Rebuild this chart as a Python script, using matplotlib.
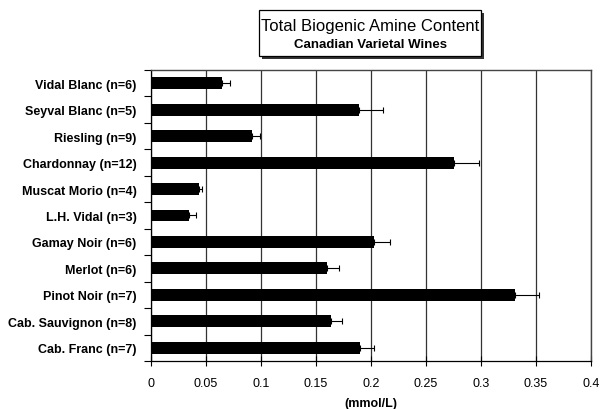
import numpy as np
import matplotlib.pyplot as plt
from matplotlib.patches import FancyBboxPatch
import matplotlib.patheffects as pe

plt.rcParams['font.family'] = ['Liberation Sans', 'DejaVu Sans']

# wine varieties (top to bottom) and total biogenic amines (mmol/L)
wines = ['Vidal Blanc (n=6)', 'Seyval Blanc (n=5)', 'Riesling (n=9)', 'Chardonnay (n=12)',
         'Muscat Morio (n=4)', 'L.H. Vidal (n=3)', 'Gamay Noir (n=6)', 'Merlot (n=6)',
         'Pinot Noir (n=7)', 'Cab. Sauvignon (n=8)', 'Cab. Franc (n=7)']
amine = [0.065, 0.189, 0.092, 0.276, 0.044, 0.035, 0.203, 0.160, 0.331, 0.164, 0.190]
err = [0.007, 0.022, 0.007, 0.022, 0.003, 0.006, 0.014, 0.011, 0.022, 0.010, 0.013]
xticks = [0, 0.05, 0.1, 0.15, 0.2, 0.25, 0.3, 0.35, 0.4]

fig = plt.figure(figsize=(6, 4.1), dpi=100)
ax = fig.add_axes([0.251, 0.117, 0.734, 0.71])

y = np.arange(len(wines))
ax.barh(y, amine, height=0.45, color='black', zorder=3,
        xerr=[np.zeros(len(err)), err], capsize=2.5,
        error_kw=dict(elinewidth=0.8, capthick=0.8, ecolor='black', zorder=4))

ax.set_xlim(0, 0.4)
ax.set_ylim(len(wines) - 0.5, -0.5)
ax.set_xticks(xticks)
ax.set_xticklabels([f'{v:g}' for v in xticks], fontsize=9)
ax.set_yticks(y)
ax.set_yticklabels(wines, fontsize=9, fontweight='bold')
ax.set_yticks(np.arange(len(wines) + 1) - 0.5, minor=True)
ax.tick_params(axis='y', which='major', length=0, pad=10)
ax.tick_params(axis='y', which='minor', length=5, width=0.8, direction='out')
ax.tick_params(axis='x', length=7, width=0.8, direction='inout', pad=8)
ax.grid(axis='x', color='#333333', linewidth=0.9, zorder=1)

for s in ['left', 'bottom']:
    ax.spines[s].set_linewidth(0.9)
for s in ['top', 'right']:
    ax.spines[s].set_color('#444444')
    ax.spines[s].set_linewidth(1.0)

ax.set_xlabel('(mmol/L)', fontsize=9, fontweight='bold', labelpad=6)

# title box with drop shadow
box = FancyBboxPatch((259 / 600, 1 - 57 / 410), 222 / 600, 46 / 410,
                     boxstyle='square,pad=0', transform=fig.transFigure,
                     facecolor='white', edgecolor='black', linewidth=0.9,
                     path_effects=[pe.SimplePatchShadow(offset=(2.5, -2.5), shadow_rgbFace='black', alpha=0.8),
                                   pe.Normal()])
fig.patches.append(box)
fig.text(370 / 600, 1 - 26 / 410, 'Total Biogenic Amine Content', ha='center', va='center', fontsize=12)
fig.text(370 / 600, 1 - 45 / 410, 'Canadian Varietal Wines', ha='center', va='center',
         fontsize=9.5, fontweight='bold')

fig.savefig('out.png', dpi=100)
